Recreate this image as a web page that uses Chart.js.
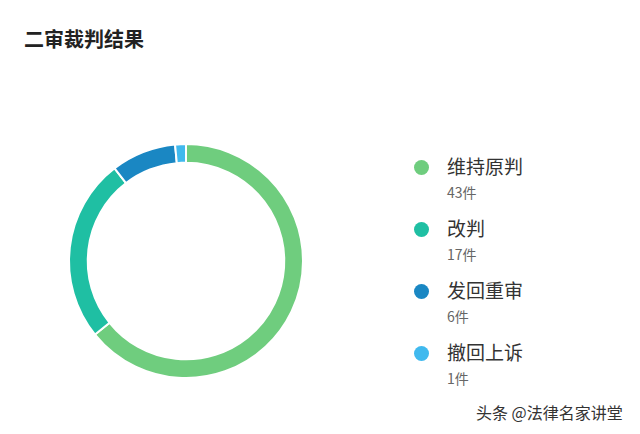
<!DOCTYPE html>
<html>
<head>
<meta charset="utf-8">
<script src="https://cdn.jsdelivr.net/npm/chart.js@4"></script>
<style>
  body { margin: 0; width: 640px; height: 434px; background: #fff; font-family: "Noto Sans CJK SC", sans-serif; position: relative; overflow: hidden; }
  #title { position: absolute; left: 24px; top: 24px; font-size: 20px; font-weight: bold; color: #222; }
  #chartBox { position: absolute; left: 66px; top: 141px; width: 240px; height: 240px; }
  #legend { position: absolute; left: 414px; top: 150px; }
  .item { position: relative; height: 62px; padding-left: 33px; }
  .dot { position: absolute; left: 0; top: 10px; width: 15px; height: 15px; border-radius: 50%; }
  .name { font-size: 19px; color: #333; line-height: 32px; }
  .count { font-size: 14px; color: #666; line-height: 20px; }
  #mark { position: absolute; left: 476px; top: 400px; font-size: 16px; color: #333; }
</style>
</head>
<body>
<div id="title">二审裁判结果</div>
<div id="chartBox"><canvas id="donut"></canvas></div>
<div id="legend"></div>
<div id="mark">头条 @法律名家讲堂</div>
<script>
// Data
const categories = ['维持原判', '改判', '发回重审', '撤回上诉'];
const counts = [43, 17, 6, 1];
const colors = ['#6fcd7e', '#1fbfa3', '#1a87c3', '#40b9ee'];

// Build the legend by hand (dot, name, count)
const legend = document.getElementById('legend');
categories.forEach((name, i) => {
    const item = document.createElement('div');
    item.className = 'item';
    item.innerHTML = '<span class="dot" style="background:' + colors[i] + '"></span>' +
        '<div class="name">' + name + '</div><div class="count">' + counts[i] + '件</div>';
    legend.appendChild(item);
});

new Chart(document.getElementById('donut'), {
    type: 'doughnut',
    data: {
        labels: categories,
        datasets: [{
            data: counts,
            backgroundColor: colors,
            borderColor: '#fff',
            borderWidth: 2
        }]
    },
    options: {
        responsive: true,
        maintainAspectRatio: false,
        animation: false,
        cutout: '84%',
        layout: { padding: 2 },
        plugins: { legend: { display: false }, tooltip: { enabled: false } }
    }
});
</script>
</body>
</html>
